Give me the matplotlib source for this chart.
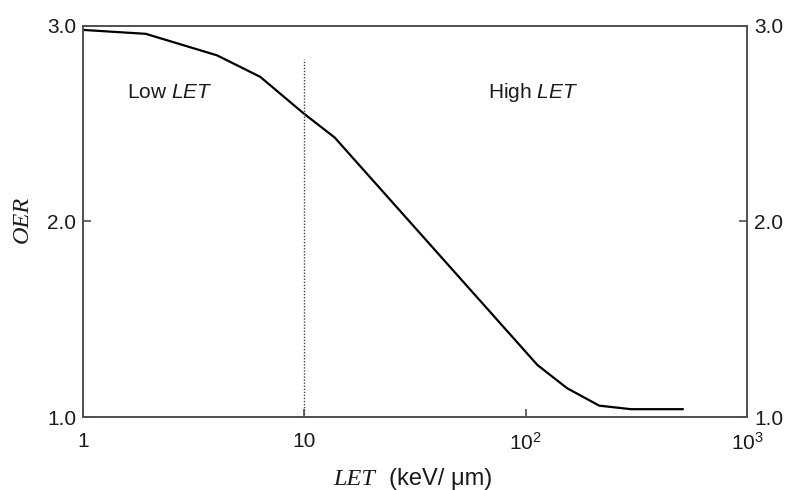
import matplotlib
matplotlib.use("Agg")
import matplotlib.pyplot as plt

plt.rcParams['font.family'] = ['Liberation Sans', 'DejaVu Sans']
plt.rcParams['mathtext.fontset'] = 'custom'
plt.rcParams['mathtext.rm'] = 'Liberation Sans'
plt.rcParams['mathtext.it'] = 'Liberation Serif:italic'
plt.rcParams['mathtext.sf'] = 'Liberation Sans:italic'

# Data
let_values = [1.0, 1.92, 4.03, 6.32, 10.0, 13.7, 113.0, 154.0, 215.0, 299.0, 512.0]
oer_values = [2.98, 2.96, 2.85, 2.74, 2.55, 2.43, 1.266, 1.147, 1.058, 1.04, 1.04]
divider_let = 10.0
divider_top = 2.83
x_ticks = [1, 10, 100, 1000]
x_tick_labels = ['1', '10', r'$10^2$', r'$10^3$']
y_ticks = [1.0, 2.0, 3.0]
y_tick_labels = ['1.0', '2.0', '3.0']

fig = plt.figure(figsize=(7.86, 4.90), dpi=100)
ax = fig.add_axes([83/786, 1 - 417/490, (747-83)/786, (417-26)/490])

ax.plot(let_values, oer_values, color='black', lw=1.6, solid_joinstyle='miter')
ax.plot([divider_let, divider_let], [1.0, divider_top], color='#444444', lw=1.0, linestyle=(0, (1, 1.2)))

ax.set_xscale('log')
ax.set_xlim(1, 1000)
ax.set_ylim(1.0, 3.0)
ax.set_xticks(x_ticks)
ax.set_xticklabels(x_tick_labels)
ax.minorticks_off()
ax.set_yticks(y_ticks)
ax.set_yticklabels(y_tick_labels)

spine_col = '#505050'
for s in ax.spines.values():
    s.set_color(spine_col)
    s.set_linewidth(1.4)

ax.tick_params(axis='both', direction='in', length=6, width=1.2, color=spine_col,
               labelsize=15, labelcolor='#1a1a1a')
ax.tick_params(axis='x', pad=11)
ax.tick_params(axis='y', pad=5, right=True, labelright=True)

ax.text(1.58, 2.66, r'Low $\mathsf{LET}$', fontsize=15, color='#1a1a1a', va='center', ha='left')
ax.text(67.3, 2.66, r'High $\mathsf{LET}$', fontsize=15, color='#1a1a1a', va='center', ha='left')

fig.text(22/786, 1 - 219/490, 'OER', rotation=90, fontsize=17.5, fontstyle='italic',
         family='Liberation Serif', ha='center', va='center', color='#1a1a1a')
fig.text(333/786, 1 - 485/490, 'LET', fontsize=17.5, fontstyle='italic',
         family='Liberation Serif', ha='left', va='baseline', color='#1a1a1a')
fig.text(389/786, 1 - 485/490, '(keV/ μm)', fontsize=17,
         ha='left', va='baseline', color='#1a1a1a')

fig.savefig('out.png', dpi=100)
